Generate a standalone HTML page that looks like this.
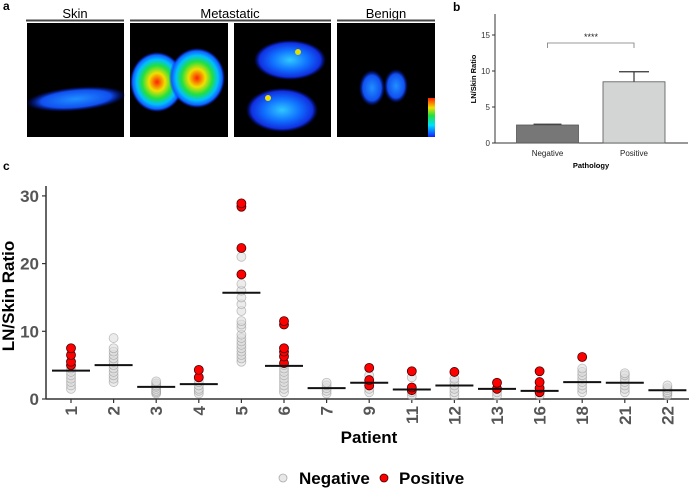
<!DOCTYPE html>
<html><head><meta charset="utf-8"><style>
body{margin:0;background:#fff;width:689px;height:488px;overflow:hidden;font-family:"Liberation Sans",Arial,sans-serif}
svg{display:block}
</style></head><body>
<svg width="689" height="488" font-family="Liberation Sans, Arial, sans-serif">
<defs>
<radialGradient id="hot" cx="50%" cy="50%" r="50%"><stop offset="0" stop-color="#ff2000"/><stop offset="0.3" stop-color="#f0e000"/><stop offset="0.55" stop-color="#20e040"/><stop offset="0.75" stop-color="#00c0ff"/><stop offset="0.9" stop-color="#1060ff"/><stop offset="1" stop-color="#0020ff" stop-opacity="0"/></radialGradient>
<radialGradient id="cool" cx="50%" cy="50%" r="50%"><stop offset="0" stop-color="#30c8ff"/><stop offset="0.5" stop-color="#1070ff"/><stop offset="0.85" stop-color="#1030e0"/><stop offset="1" stop-color="#0010c0" stop-opacity="0"/></radialGradient>
<radialGradient id="blue" cx="50%" cy="50%" r="50%"><stop offset="0" stop-color="#2090ff"/><stop offset="0.7" stop-color="#1050f0"/><stop offset="1" stop-color="#0010c0" stop-opacity="0"/></radialGradient>
<linearGradient id="scale" x1="0" y1="1" x2="0" y2="0"><stop offset="0" stop-color="#1020ff"/><stop offset="0.3" stop-color="#00e0ff"/><stop offset="0.55" stop-color="#20e040"/><stop offset="0.75" stop-color="#f0e000"/><stop offset="1" stop-color="#ff2000"/></linearGradient>
</defs>
<g>
<text x="3" y="10" font-size="12" font-weight="bold">a</text>
<text x="75" y="18" font-size="13" text-anchor="middle">Skin</text>
<text x="230" y="18" font-size="13" text-anchor="middle">Metastatic</text>
<text x="386" y="18" font-size="13" text-anchor="middle">Benign</text>
<line x1="26" y1="20.5" x2="124" y2="20.5" stroke="#444" stroke-width="2"/>
<line x1="130" y1="20.5" x2="331" y2="20.5" stroke="#444" stroke-width="2"/>
<line x1="337" y1="20.5" x2="435" y2="20.5" stroke="#444" stroke-width="2"/>
<rect x="27" y="23" width="97" height="114" fill="#000"/>
<rect x="130" y="23" width="98" height="114" fill="#000"/>
<rect x="234" y="23" width="97" height="114" fill="#000"/>
<rect x="337" y="23" width="98" height="114" fill="#000"/>
<ellipse cx="76" cy="99" rx="50" ry="12" fill="url(#blue)" transform="rotate(-5 76 99)"/>
<ellipse cx="157" cy="82" rx="27" ry="30" fill="url(#hot)"/>
<ellipse cx="197" cy="78" rx="28" ry="30" fill="url(#hot)"/>
<ellipse cx="290" cy="60" rx="36" ry="20" fill="url(#cool)"/>
<ellipse cx="282" cy="110" rx="36" ry="22" fill="url(#cool)"/>
<circle cx="298" cy="52" r="3" fill="#e0e000"/><circle cx="268" cy="98" r="3" fill="#f0e000"/>
<ellipse cx="372" cy="88" rx="13" ry="18" fill="url(#blue)"/>
<ellipse cx="396" cy="86" rx="12" ry="17" fill="url(#blue)"/>
<rect x="428" y="98" width="7" height="39" fill="url(#scale)"/>
</g>
<g id="pb">
<text x="453" y="11" font-size="12" font-weight="bold">b</text>
</g>
<g id="pc">
<text x="3" y="170" font-size="12" font-weight="bold">c</text>
</g>
</svg>
<script>
const NS='http://www.w3.org/2000/svg';
function mk(parent,tag,attrs,txt){const e=document.createElementNS(NS,tag);for(const k in attrs)e.setAttribute(k,attrs[k]);if(txt!==undefined)e.textContent=txt;parent.appendChild(e);return e;}

const bCategories=['Negative','Positive'];
const bMeans=[2.5,8.5];
const bErrors=[0.1,1.4];
const bTicks=[0,5,10,15];
const pb=document.getElementById('pb');
const bx0=495,by0=143,bpx=7.2;
const bY=v=>by0-v*bpx;
const bCenters=[547.5,634];
let ax=mk(pb,'line',{x1:bx0,y1:14,x2:bx0,y2:by0,stroke:'#333','stroke-width':1});

ax=mk(pb,'line',{x1:bx0,y1:by0,x2:688,y2:by0,stroke:'#333','stroke-width':1});

bTicks.forEach(t=>{mk(pb,'line',{x1:bx0-3,y1:bY(t),x2:bx0,y2:bY(t),stroke:'#333'});
 const tl=mk(pb,'text',{x:bx0-5,y:bY(t)+3,'font-size':8,'text-anchor':'end',fill:'#333'},t);
 });
const bFills=['#777','#d3d5d5'];
bCategories.forEach((c,i)=>{
 const w=62,x=bCenters[i]-w/2;
 mk(pb,'line',{x1:bCenters[i],y1:bY(bMeans[i]),x2:bCenters[i],y2:bY(bMeans[i]+bErrors[i]),stroke:'#333','stroke-width':1.2});
 mk(pb,'line',{x1:bCenters[i]-(i?15:14),y1:bY(bMeans[i]+bErrors[i]),x2:bCenters[i]+(i?15:14),y2:bY(bMeans[i]+bErrors[i]),stroke:'#333','stroke-width':1.2});
 const r=mk(pb,'rect',{x:x,y:bY(bMeans[i]),width:w,height:bMeans[i]*bpx,fill:bFills[i],stroke:'#555','stroke-width':0.8});
 
 const tl=mk(pb,'text',{x:bCenters[i],y:156,'font-size':8,'text-anchor':'middle',fill:'#222'},c);
 
});
mk(pb,'path',{d:`M${bCenters[0]} 48 V43 H${bCenters[1]} V48`,fill:'none',stroke:'#777','stroke-width':0.8});
let st=mk(pb,'text',{x:591,y:40,'font-size':9,'text-anchor':'middle',fill:'#222'},'****');

let bt=mk(pb,'text',{x:591,y:168,'font-size':7.5,'font-weight':'bold','text-anchor':'middle'},'Pathology');

bt=mk(pb,'text',{x:0,y:0,'font-size':7.5,'font-weight':'bold','text-anchor':'middle',transform:'translate(476,79) rotate(-90)'},'LN/Skin Ratio');


const patients=['1','2','3','4','5','6','7','9','11','12','13','16','18','21','22'];
const negValues=[
 [1.5,2,2.5,3,3.5,4,4.5,5],
 [2.5,3,3.5,4,4.5,5,5.5,6,6.5,7,7.5,9],
 [0.8,1,1.2,1.5,1.8,2,2.3,2.6],
 [0.8,1.2,1.5,2,2.5],
 [5.5,6,6.5,7,7.5,8,8.5,9,9.5,10.5,11,11.5,13,14,15,16,17,21],
 [1,1.5,2,2.5,3,3.5,4,4.5,5],
 [0.8,1.2,1.6,2,2.4],
 [1,1.5,2,3.5],
 [0.5,1,1.5,3.2],
 [0.5,1,1.5,2,2.5,3],
 [0.5,1,1.5],
 [0.5,1,1.5],
 [1,1.5,2,2.5,3,3.5,4,4.5],
 [1,1.5,2,2.5,3,3.5,3.8],
 [0.5,0.8,1,1.3,1.6,2]
];
const posValues=[
 [5,5.5,6.5,7.5],[],[],[3.2,4.3],[18.4,22.3,28.4,28.9],[5.3,6.3,7,7.5,11,11.5],[],
 [2,2.8,4.6],[1.3,1.7,4.1],[4.0],[1.5,2.4],[1,1.6,2.5,4.1],[6.2],[],[]
];
const meanValues=[4.2,5.0,1.8,2.2,15.7,4.9,1.6,2.4,1.4,2.0,1.5,1.2,2.5,2.4,1.3];
const cTicks=[0,10,20,30];
const pc=document.getElementById('pc');
const cx0=46,cy0=399,cpx=6.77,cxStart=71,cStep=42.6;
const cY=v=>cy0-v*cpx;
const cX=i=>cxStart+i*cStep;
ax=mk(pc,'line',{x1:cx0,y1:186,x2:cx0,y2:cy0,stroke:'#333','stroke-width':1.5});

ax=mk(pc,'line',{x1:cx0,y1:cy0,x2:689,y2:cy0,stroke:'#333','stroke-width':1.5});

cTicks.forEach(t=>{mk(pc,'line',{x1:cx0-4,y1:cY(t),x2:cx0,y2:cY(t),stroke:'#333','stroke-width':1.2});
 const tl=mk(pc,'text',{x:cx0-7,y:cY(t)+6,'font-size':17,'font-weight':'bold','text-anchor':'end',fill:'#555'},t);
 });
patients.forEach((p,i)=>{
 const x=cX(i);
 mk(pc,'line',{x1:x,y1:cy0,x2:x,y2:cy0+4,stroke:'#333','stroke-width':1.2});
 const tl=mk(pc,'text',{x:0,y:0,'font-size':17,'font-weight':'bold','text-anchor':'end',fill:'#555',transform:`translate(${x+6},${cy0+7}) rotate(-90)`},p);
 
 negValues[i].forEach(v=>{const c=mk(pc,'circle',{cx:x,cy:cY(v),r:4.5,fill:'#ddd','fill-opacity':0.55,stroke:'#888','stroke-opacity':0.5,'stroke-width':0.8});
  });
 posValues[i].forEach(v=>{const c=mk(pc,'circle',{cx:x,cy:cY(v),r:4.5,fill:'#f00',stroke:'#400','stroke-width':0.8});
  });
 const m=mk(pc,'line',{x1:x-19,y1:cY(meanValues[i]),x2:x+19,y2:cY(meanValues[i]),stroke:'#111','stroke-width':2});
 
});
let t=mk(pc,'text',{x:0,y:0,'font-size':17,'font-weight':'bold','text-anchor':'middle',transform:'translate(14,296) rotate(-90)'},'LN/Skin Ratio');

t=mk(pc,'text',{x:369,y:443,'font-size':17,'font-weight':'bold','text-anchor':'middle'},'Patient');

let lg=mk(pc,'circle',{cx:283,cy:478,r:4,fill:'#e8e8e8',stroke:'#aaa','stroke-width':0.8});

lg=mk(pc,'text',{x:299,y:484,'font-size':17,'font-weight':'bold'},'Negative');

lg=mk(pc,'circle',{cx:384,cy:478,r:4,fill:'#f00',stroke:'#400','stroke-width':0.8});

lg=mk(pc,'text',{x:399,y:484,'font-size':17,'font-weight':'bold'},'Positive');

</script>
</body></html>
